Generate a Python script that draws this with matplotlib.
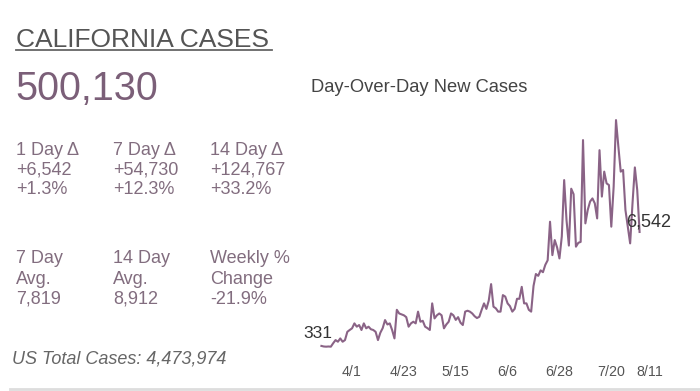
import numpy as np
import matplotlib
matplotlib.use("Agg")
import matplotlib.pyplot as plt
from matplotlib.lines import Line2D
from matplotlib.transforms import ScaledTranslation

plt.rcParams['font.family'] = ['Liberation Sans', 'DejaVu Sans']

# daily new cases, 3/19 .. 8/1
start_day = '2020-03-19'
new_cases = [
    331, 300, 290, 300, 290, 480, 650, 560, 740, 560,
    650, 1100, 1200, 1290, 1560, 1380, 1470, 1200, 1560, 1290,
    1380, 1240, 1200, 1100, 650, 1050, 1300, 1740, 1500, 1560,
    1200, 740, 2300, 2100, 2050, 2000, 1900, 1380, 1560, 1650,
    1560, 2200, 1650, 1700, 1380, 1300, 1200, 2650, 1830, 2000,
    2100, 2000, 1290, 1500, 1650, 2100, 2000, 1750, 1900, 1600,
    1470, 2200, 2250, 2200, 2100, 1950, 1850, 1920, 2300, 2650,
    2350, 2800, 3700, 2470, 2380, 2200, 2200, 3100, 3020, 2650,
    2500, 2200, 2350, 2900, 2900, 3550, 2650, 2650, 2300, 2200,
    3600, 4250, 4150, 4450, 4350, 4750, 5000, 7100, 5280, 6100,
    5700, 5100, 6300, 9370, 7190, 5800, 8900, 8600, 5740, 5950,
    6000, 11550, 7010, 7740, 8200, 8370, 8100, 7280, 11000, 8470,
    9830, 9190, 9100, 6830, 9010, 12640, 11190, 9830, 9920, 7740,
    6830, 5920, 8100, 10060, 8830, 6542,
]

tick_dates = ['2020-04-01', '2020-04-23', '2020-05-15', '2020-06-06',
              '2020-06-28', '2020-07-20', '2020-08-11']
tick_labels = ['4/1', '4/23', '5/15', '6/6', '6/28', '7/20', '8/11']

title = "CALIFORNIA CASES"
total = "500,130"
stats_top = [["1 Day \u0394", "+6,542", "+1.3%"],
             ["7 Day \u0394", "+54,730", "+12.3%"],
             ["14 Day \u0394", "+124,767", "+33.2%"]]
stats_bottom = [["7 Day", "Avg.", "7,819"],
                ["14 Day", "Avg.", "8,912"],
                ["Weekly %", "Change", "-21.9%"]]
us_total = "US Total Cases: 4,473,974"
chart_title = "Day-Over-Day New Cases"

W, H = 700, 391
LINE = '#8a6386'


def fx(x):
    return x / W


def fy(y):
    return 1 - y / H


fig = plt.figure(figsize=(7, 3.91), dpi=100)

# header
fig.text(fx(16), fy(47), title, fontsize=19, color='#555555', va='baseline')
fig.add_artist(Line2D([fx(16), fx(272)], [fy(50), fy(50)], color='#666666', lw=1.3))
fig.text(fx(15), fy(100), total, fontsize=28.5, color='#7b5f78', va='baseline')

col_x = [16, 113, 210]
for i, col in enumerate(stats_top):
    for j, s in enumerate(col):
        fig.text(fx(col_x[i]), fy(155 + 19.5 * j), s, fontsize=13,
                 color='#826d7f', va='baseline')
for i, col in enumerate(stats_bottom):
    for j, s in enumerate(col):
        fig.text(fx(col_x[i]), fy(263 + 20.5 * j), s, fontsize=13,
                 color='#826d7f', va='baseline')

fig.text(fx(12), fy(363), us_total, fontsize=13, style='italic',
         color='#666666', va='baseline')
fig.text(fx(311), fy(92), chart_title, fontsize=13.2, color='#444444',
         va='baseline')

fig.add_artist(Line2D([fx(10), fx(700)], [fy(389), fy(389)], color='#dddddd', lw=2))

# chart
dates = np.arange(np.datetime64(start_day), np.datetime64(start_day) + len(new_cases))
ax = fig.add_axes([fx(300.2), fy(352), 381.8 / W, 242.2 / H])
ax.plot(dates, new_cases, color=LINE, lw=1.5)
ax.set_xlim(np.datetime64('2020-03-10'), np.datetime64('2020-08-19'))
ax.set_ylim(0, 13200)
ax.patch.set_alpha(0)
for s in ax.spines.values():
    s.set_visible(False)
ax.set_yticks([])
ax.set_xticks([np.datetime64(d) for d in tick_dates])
ax.set_xticklabels(tick_labels)
ax.tick_params(axis='x', length=0, pad=9, labelsize=10.3, labelcolor='#555555')
last = ax.get_xticklabels()[-1]
last.set_transform(last.get_transform() + ScaledTranslation(-0.13, 0, fig.dpi_scale_trans))

ax.annotate(f"{new_cases[0]:,}", xy=(dates[0], new_cases[0]), xytext=(11, 8),
            textcoords='offset pixels', ha='right', va='baseline',
            fontsize=12.5, color='#333333')
ax.annotate(f"{new_cases[-1]:,}", xy=(dates[-1], new_cases[-1]), xytext=(-13, 5),
            textcoords='offset pixels', ha='left', va='baseline',
            fontsize=13, color='#333333')

plt.savefig("out.png", dpi=100)
plt.close()
